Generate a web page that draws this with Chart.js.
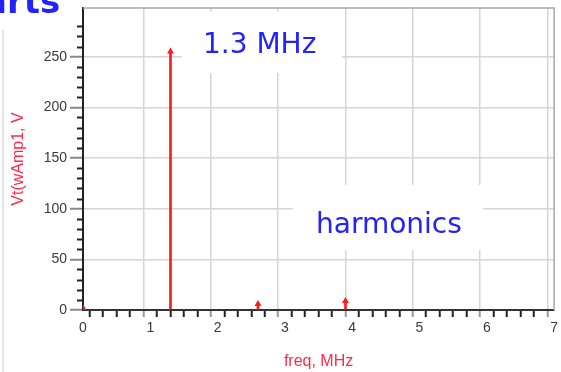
<!DOCTYPE html>
<html>
<head>
<meta charset="utf-8">
<script src="https://cdn.jsdelivr.net/npm/chart.js@4"></script>
<style>
  html, body { margin: 0; padding: 0; background: #fff; }
  #wrap { width: 561px; height: 372px; position: relative; }
</style>
</head>
<body>
<div id="wrap"><canvas id="spec"></canvas></div>
<script>
// spectrum lines
const freqs = [0, 1.3, 2.6, 3.9];
const amps = [2, 255, 6, 9];

const xMin = 0, xMax = 7;
const yMin = 0, yMax = 298;
const yTickVals = [0, 50, 100, 150, 200, 250];
const yMinorStep = 10;
const xTitle = 'freq, MHz';
const yTitle = 'Vt(wAmp1, V';

const notes = [
  { text: '1.3 MHz', x: 203, y: 53, box: [182, 12, 160, 61] },
  { text: 'harmonics', x: 316, y: 233, box: [293, 185, 190, 65] }
];

const RED = '#ff1a1a';
const BLUE = '#2222ff';
const LBL = '#3a3a3a';

const pts = freqs.map((f, i) => ({ x: f, y: amps[i] }));

// slide bits + frame + annotation text + short minor ticks on y
const extras = {
  id: 'extras',
  beforeDatasetsDraw(chart) {
    const { ctx, chartArea: a } = chart;
    ctx.save();
    ctx.fillStyle = '#fff';
    notes.forEach(n => ctx.fillRect(n.box[0], n.box[1], n.box[2], n.box[3]));
    ctx.strokeStyle = '#a8a8a8';
    ctx.lineWidth = 1.5;
    ctx.beginPath();
    ctx.moveTo(a.left, a.top);
    ctx.lineTo(a.right, a.top);
    ctx.lineTo(a.right, a.bottom);
    ctx.stroke();
    ctx.restore();
  },
  afterDraw(chart) {
    const { ctx } = chart;
    const ys = chart.scales.y;
    ctx.save();
    // minor y ticks
    ctx.strokeStyle = '#222';
    ctx.lineWidth = 2;
    ctx.beginPath();
    for (let v = yMin + yMinorStep; v <= 280; v += yMinorStep) {
      if (yTickVals.includes(v)) continue;
      const py = Math.round(ys.getPixelForValue(v)) + 0.5;
      ctx.moveTo(ys.right - 6, py);
      ctx.lineTo(ys.right, py);
    }
    ctx.stroke();

    ctx.fillStyle = BLUE;
    ctx.font = '28px "DejaVu Sans"';
    ctx.textBaseline = 'alphabetic';
    notes.forEach(n => ctx.fillText(n.text, n.x, n.y));
    // cut-off slide title
    ctx.font = 'bold 34px "DejaVu Sans"';
    ctx.fillText('arts', -16, 13);
    // slide edge
    ctx.strokeStyle = '#e4e4e4';
    ctx.lineWidth = 2;
    ctx.beginPath();
    ctx.moveTo(3, 30);
    ctx.lineTo(3, 372);
    ctx.stroke();
    ctx.restore();
  }
};

new Chart(document.getElementById('spec'), {
  type: 'bar',
  data: {
    datasets: [
      {
        type: 'bar',
        data: pts,
        backgroundColor: RED,
        barThickness: 2,
        order: 2
      },
      {
        type: 'scatter',
        data: pts,
        pointStyle: 'triangle',
        pointRadius: 4,
        backgroundColor: RED,
        borderColor: RED,
        borderWidth: 0,
        order: 1
      }
    ]
  },
  options: {
    responsive: true,
    maintainAspectRatio: false,
    animation: false,
    layout: { padding: { left: 0, right: 4, top: 8, bottom: 0 } },
    plugins: {
      legend: { display: false },
      tooltip: { enabled: false }
    },
    scales: {
      x: {
        type: 'linear',
        min: xMin,
        max: xMax,
        offset: false,
        afterFit: s => { s.height = 62; },
        ticks: {
          stepSize: 0.2,
          autoSkip: false,
          maxRotation: 0,
          color: LBL,
          font: { family: 'Liberation Sans', size: 14 },
          padding: 3,
          callback: v => Math.abs(v - Math.round(v)) < 1e-6 ? String(Math.round(v)) : ''
        },
        grid: {
          color: c => {
            const v = c.tick ? c.tick.value : 0;
            return Math.abs(v - Math.round(v)) < 1e-6 ? '#d6d6d6' : 'rgba(0,0,0,0)';
          },
          tickColor: c => {
            const v = c.tick ? c.tick.value : 0;
            return Math.abs(v - Math.round(v)) < 1e-6 && v > 0 ? '#999' : '#222';
          },
          tickLength: 7,
          lineWidth: 1.5,
          tickWidth: 2
        },
        border: { color: '#333', width: 2 },
        title: {
          display: true,
          text: xTitle,
          color: '#ff2a4a',
          font: { family: 'Liberation Sans', size: 16 },
          padding: { top: 4, bottom: 1 }
        }
      },
      y: {
        min: yMin,
        max: yMax,
        afterFit: s => { s.width = 83; s.paddingTop = 0; s.paddingBottom = 0; },
        afterBuildTicks: s => { s.ticks = yTickVals.map(v => ({ value: v })); },
        ticks: {
          autoSkip: false,
          color: LBL,
          font: { family: 'Liberation Sans', size: 14 },
          padding: 3,
          callback: v => String(v)
        },
        grid: {
          color: '#d6d6d6',
          tickColor: '#888',
          tickLength: 13,
          lineWidth: 1.5,
          tickWidth: 2
        },
        border: { color: '#222', width: 2 },
        title: {
          display: true,
          text: yTitle,
          color: '#ff2a4a',
          font: { family: 'Liberation Sans', size: 16 },
          padding: { top: 9, bottom: 4 }
        }
      }
    }
  },
  plugins: [extras]
});
</script>
</body>
</html>
